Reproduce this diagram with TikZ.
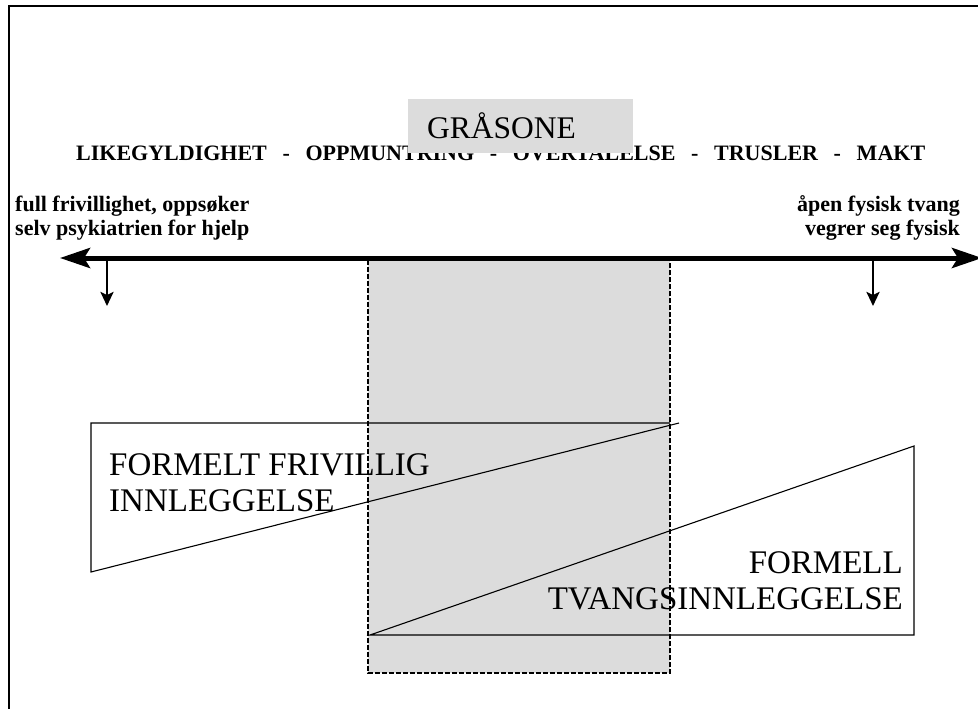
\documentclass[tikz,border=0pt]{standalone}
\usepackage{fontspec}
\setmainfont{Liberation Serif}
\usetikzlibrary{arrows.meta}
\definecolor{grayzone}{RGB}{220,220,220}
\begin{document}
\begin{tikzpicture}[x=1pt,y=-1pt,
  lbl/.style={inner sep=0pt, font=\fontsize{22}{24}\selectfont\bfseries},
  big/.style={inner sep=0pt, font=\fontsize{31.5}{36}\selectfont},
  bigger/.style={inner sep=0pt, font=\fontsize{33}{36}\selectfont},
  outline/.style={line width=1.1pt},
  frame/.style={line width=2pt},
  zone/.style={fill=grayzone, draw=black, line width=1.3pt, dash pattern=on 5pt off 2pt},
  mainarrow/.style={line width=5pt, {Stealth[length=30pt,width=20pt,inset=6pt]}-{Stealth[length=30pt,width=20pt,inset=6pt]}},
  downarrow/.style={line width=2.5pt, -{Stealth[length=14pt,width=13pt,inset=3pt]}}
]
\useasboundingbox (0,0) rectangle (978,709);
% frame
\coordinate (fb) at (9,712);
\coordinate (ftl) at (9,6.5);
\coordinate (ftr) at (980,6.5);
\draw[frame] (fb) -- (ftl) -- (ftr);

% scale row
\node[lbl, anchor=base west] (row) at (76,160)
  {\makebox[849pt][s]{LIKEGYLDIGHET\hfill-\hfill OPPMUNTRING\hfill-\hfill OVERTALELSE\hfill-\hfill TRUSLER\hfill-\hfill MAKT}};

% grey zone title
\node[fill=grayzone, inner sep=0pt, minimum width=225pt, minimum height=54pt, anchor=north west] (gsbox) at (408,99) {};
\node[big, anchor=base west] (gstext) at (427,138) {GRÅSONE};

% end labels (base anchor = last line baseline)
\node[lbl, align=left, anchor=base west] (leftlbl) at (15,235) {full frivillighet, oppsøker\\selv psykiatrien for hjelp};
\node[lbl, align=right, anchor=base east] (rightlbl) at (960,235) {åpen fysisk tvang\\vegrer seg fysisk};

% grey zone area
\coordinate (zTL) at (368,260);
\coordinate (zBR) at (670,673);
\draw[zone] (zTL) rectangle (zBR);

% left triangle
\coordinate (lTL) at (91,423);
\coordinate (lTR) at (670,423);
\coordinate (lBL) at (91,572);
\coordinate (lTip) at (679,423);
\draw[outline] (lTR) -- (lTL) -- (lBL) -- (lTip);
\node[bigger, align=left, anchor=base west] (ltext) at (109,511) {FORMELT FRIVILLIG\\INNLEGGELSE};

% right triangle
\coordinate (rBL) at (370,635);
\coordinate (rBR) at (914,635);
\coordinate (rTR) at (914,446);
\draw[outline] (rBL) -- (rBR) -- (rTR) -- cycle;
\node[bigger, align=right, anchor=base east] (rtext) at (903,609) {FORMELL\\TVANGSINNLEGGELSE};

% main arrow
\coordinate (aL) at (60,258);
\coordinate (aR) at (982,258);
\draw[mainarrow] (aL) -- (aR);

% down arrows
\coordinate (d1s) at (107,258);
\coordinate (d1e) at (107,306);
\coordinate (d2s) at (873,258);
\coordinate (d2e) at (873,306);
\draw[downarrow] (d1s) -- (d1e);
\draw[downarrow] (d2s) -- (d2e);
\end{tikzpicture}
\end{document}
